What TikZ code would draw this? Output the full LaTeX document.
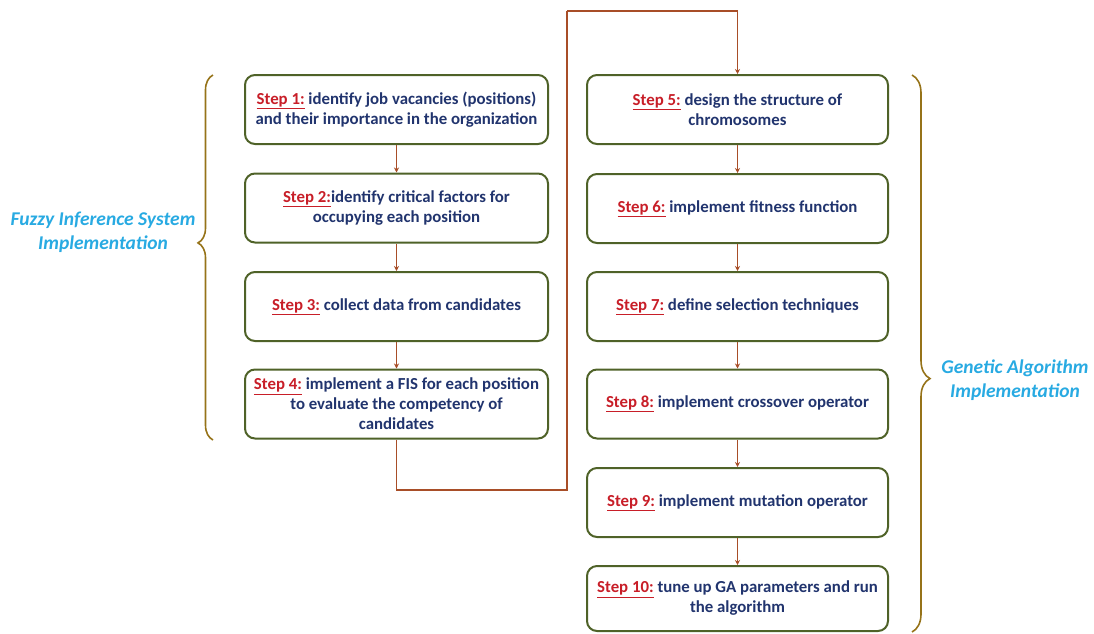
\documentclass[tikz,border=0pt]{standalone}
\usepackage{fontspec}
\setmainfont{Carlito}
\usetikzlibrary{arrows.meta,decorations.pathreplacing}
\definecolor{boxgreen}{RGB}{79,98,40}
\definecolor{navy}{RGB}{33,52,110}
\definecolor{stepred}{RGB}{200,30,40}
\definecolor{arrbrown}{RGB}{168,78,40}
\definecolor{bracegold}{RGB}{150,115,25}
\definecolor{lblue}{RGB}{40,170,226}
\newcommand{\stp}[1]{\textcolor{stepred}{\underline{#1}}}
\begin{document}
\begin{tikzpicture}[x=1pt,y=-1pt,
  stepbox/.style={draw=boxgreen,line width=2pt,rounded corners=10pt,fill=white,
    align=center,font=\fontsize{16.8}{20}\selectfont\bfseries,text=navy,
    inner sep=0pt},
  leftbox/.style={stepbox,minimum width=303pt,minimum height=69pt},
  rightbox/.style={stepbox,minimum width=301pt,minimum height=69pt},
  arr/.style={draw=arrbrown,line width=1.8pt,-{Stealth[length=5pt,width=5pt]}},
  bracestyle/.style={draw=bracegold,line width=1.6pt,decorate},
  grouplabel/.style={align=center,text=lblue,font=\fontsize{19.5}{24}\selectfont\bfseries\itshape}
]
\useasboundingbox (0,0) rectangle (1094,633);

\node[leftbox] (s1) at (396.5,109.5) {\stp{Step 1:} identify job vacancies (positions)\\and their importance in the organization};
\node[leftbox] (s2) at (396.5,208) {\stp{Step 2:}identify critical factors for\\occupying each position};
\node[leftbox] (s3) at (396.5,306.5) {\stp{Step 3:} collect data from candidates};
\node[leftbox] (s4) at (396.5,404) {\stp{Step 4:} implement a FIS for each position\\to evaluate the competency of\\candidates};

\node[rightbox] (s5) at (737.5,109.5) {\stp{Step 5:} design the structure of\\chromosomes};
\node[rightbox] (s6) at (737.5,208.5) {\stp{Step 6:} implement fitness function};
\node[rightbox] (s7) at (737.5,306.5) {\stp{Step 7:} define selection techniques};
\node[rightbox] (s8) at (737.5,404) {\stp{Step 8:} implement crossover operator};
\node[rightbox] (s9) at (737.5,502.5) {\stp{Step 9:} implement mutation operator};
\node[rightbox,minimum height=65pt] (s10) at (737.5,598.5) {\stp{Step 10:} tune up GA parameters and run\\the algorithm};

\draw[arr] (s1) -- (s2);
\draw[arr] (s2) -- (s3);
\draw[arr] (s3) -- (s4);
\coordinate (c1) at (567,490);
\coordinate (c2) at (567,11);
\draw[arr,-] (s4.south) |- (c1) -- (c2);
\draw[arr] (c2) -| (s5.north);
\draw[arr] (s5) -- (s6);
\draw[arr] (s6) -- (s7);
\draw[arr] (s7) -- (s8);
\draw[arr] (s8) -- (s9);
\draw[arr] (s9) -- (s10);

\coordinate (lb1) at (213,440);
\coordinate (lb2) at (213,75);
\draw[bracestyle,decoration={brace,amplitude=15pt,aspect=0.54}] (lb1) -- (lb2);
\coordinate (rb1) at (912,75);
\coordinate (rb2) at (912,632);
\draw[bracestyle,decoration={brace,amplitude=18pt,aspect=0.545}] (rb1) -- (rb2);

\node[grouplabel] (fis) at (103,232) {Fuzzy Inference System\\Implementation};
\node[grouplabel] (ga) at (1015,380) {Genetic Algorithm\\Implementation};
\end{tikzpicture}
\end{document}
